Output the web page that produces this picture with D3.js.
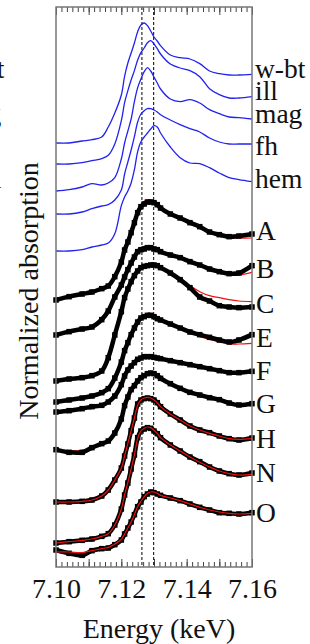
<!DOCTYPE html>
<meta charset="utf-8">
<style>
body { margin: 0; background: #fff; }
text { font-family: "Liberation Serif", "Times New Roman", serif; fill: #111; }
.frame { fill: none; stroke: #777; stroke-width: 1.5px; }
.ticks line { stroke: #444; stroke-width: 1px; }
.ticks path { display: none; }
.ticks text { font-size: 28px; font-family: "Liberation Serif", "Times New Roman", serif; fill: #111; }
.ref { fill: none; stroke: #2222ee; stroke-width: 1.3px; }
.obs { fill: none; stroke: #000; stroke-width: 4.5px; }
.fit { fill: none; stroke: #ee1111; stroke-width: 1.2px; }
.edge { stroke: #000; stroke-width: 1px; stroke-dasharray: 3,2; }
.lbl { font-size: 27.5px; }
</style>
<body>
<svg width="310" height="644"></svg>
<script src="https://d3js.org/d3.v7.min.js"></script>
<script>

// energy grid (keV)
var energy = [7.100, 7.104, 7.108, 7.111, 7.114, 7.116, 7.118, 7.120, 7.121, 7.122,
              7.123, 7.124, 7.125, 7.126, 7.127, 7.128, 7.129, 7.130, 7.131, 7.132,
              7.135, 7.138, 7.141, 7.144, 7.147, 7.150, 7.153, 7.156, 7.160];

// reference compounds (blue)
var refNames = ["w-bt", "ill", "mag", "fh", "hem"];
var refOffsets = [6.36, 6.045, 5.64, 5.295, 4.74];
var refLabelLevels = [7.335, 7.005, 6.66, 6.18, 5.685];
var wbt = [0, 0, 0.03, 0.05, 0.09, 0.24, 0.45, 0.72, 1.00, 1.20, 1.35, 1.50, 1.67, 1.77, 1.80, 1.76, 1.68, 1.59, 1.53, 1.46, 1.32, 1.28, 1.26, 1.19, 1.08, 1.04, 1.02, 1.02, 1.03];
var ill = [0, 0, 0.02, 0.05, 0.08, 0.13, 0.30, 0.65, 0.92, 1.10, 1.26, 1.40, 1.56, 1.67, 1.74, 1.82, 1.85, 1.80, 1.73, 1.65, 1.50, 1.44, 1.40, 1.31, 1.13, 1.04, 0.99, 0.99, 1.01];
var mag = [0, 0.02, 0.06, 0.11, 0.09, 0.12, 0.20, 0.48, 0.72, 0.90, 1.08, 1.34, 1.55, 1.68, 1.79, 1.85, 1.80, 1.71, 1.62, 1.53, 1.38, 1.34, 1.37, 1.32, 1.22, 1.16, 1.11, 1.10, 1.08];
var fh  = [0, 0, 0.03, 0.08, 0.12, 0.14, 0.21, 0.36, 0.60, 0.78, 0.96, 1.16, 1.38, 1.50, 1.55, 1.58, 1.58, 1.56, 1.53, 1.49, 1.41, 1.34, 1.28, 1.23, 1.14, 1.08, 1.05, 1.05, 1.05];
var hem = [0, 0, 0.02, 0.06, 0.09, 0.12, 0.26, 0.68, 0.81, 0.90, 1.02, 1.22, 1.49, 1.64, 1.71, 1.77, 1.83, 1.88, 1.86, 1.77, 1.56, 1.40, 1.32, 1.31, 1.25, 1.17, 1.10, 1.07, 1.04];
var refSpectra = [wbt, ill, mag, fh, hem];

// samples: measured (black) and fit (red)
var sampleNames = ["A", "B", "C", "E", "F", "G", "H", "N", "O"];
var sampleOffsets = [4.005, 3.48, 2.79, 2.475, 2.325, 1.74, 0.975, 0.36, 0.225];
var sampleLabelLevels = [4.905, 4.335, 3.81, 3.30, 2.805, 2.31, 1.785, 1.275, 0.675];

var obsA = [0, 0.05, 0.09, 0.12, 0.17, 0.21, 0.35, 0.57, 0.75, 0.87, 1.01, 1.16, 1.31, 1.40, 1.44, 1.47, 1.47, 1.46, 1.43, 1.38, 1.29, 1.23, 1.16, 1.10, 1.02, 0.98, 0.95, 0.96, 0.99];
var fitA = [0, 0.04, 0.08, 0.12, 0.16, 0.21, 0.35, 0.57, 0.75, 0.88, 1.02, 1.17, 1.33, 1.43, 1.48, 1.50, 1.50, 1.48, 1.45, 1.40, 1.30, 1.23, 1.16, 1.09, 1.02, 0.97, 0.94, 0.93, 0.93];
var obsB = [0, 0.05, 0.09, 0.12, 0.23, 0.36, 0.57, 0.75, 0.87, 0.98, 1.08, 1.17, 1.25, 1.28, 1.29, 1.31, 1.31, 1.29, 1.28, 1.25, 1.20, 1.16, 1.10, 1.05, 0.99, 0.95, 0.92, 0.93, 1.04];
var fitB = [0, 0.04, 0.08, 0.12, 0.22, 0.36, 0.57, 0.76, 0.89, 1.00, 1.10, 1.19, 1.27, 1.31, 1.33, 1.34, 1.34, 1.32, 1.30, 1.27, 1.21, 1.16, 1.10, 1.04, 0.98, 0.93, 0.90, 0.90, 0.94];
var obsC = [0, 0.03, 0.05, 0.08, 0.15, 0.35, 0.69, 1.04, 1.25, 1.38, 1.49, 1.58, 1.65, 1.70, 1.72, 1.73, 1.74, 1.74, 1.73, 1.70, 1.62, 1.52, 1.40, 1.26, 1.20, 1.13, 1.11, 1.10, 1.11];
var fitC = [0, 0.03, 0.05, 0.08, 0.15, 0.34, 0.68, 1.03, 1.24, 1.38, 1.49, 1.58, 1.66, 1.71, 1.74, 1.76, 1.77, 1.76, 1.75, 1.72, 1.62, 1.53, 1.43, 1.34, 1.28, 1.25, 1.22, 1.20, 1.19];
var obsE = [0, 0.03, 0.06, 0.09, 0.14, 0.20, 0.36, 0.60, 0.77, 0.89, 1.01, 1.11, 1.20, 1.26, 1.28, 1.30, 1.30, 1.28, 1.25, 1.23, 1.17, 1.11, 1.05, 1.01, 0.97, 0.93, 0.90, 0.93, 1.01];
var fitE = [0, 0.02, 0.05, 0.07, 0.12, 0.19, 0.35, 0.60, 0.78, 0.91, 1.03, 1.13, 1.22, 1.29, 1.31, 1.33, 1.33, 1.31, 1.28, 1.25, 1.18, 1.11, 1.04, 0.98, 0.94, 0.90, 0.87, 0.87, 0.88];
var obsF = [0, 0.02, 0.05, 0.08, 0.10, 0.15, 0.24, 0.41, 0.54, 0.63, 0.69, 0.74, 0.79, 0.81, 0.83, 0.83, 0.83, 0.82, 0.81, 0.80, 0.77, 0.74, 0.71, 0.68, 0.65, 0.62, 0.59, 0.59, 0.61];
var fitF = [0, 0.02, 0.04, 0.07, 0.10, 0.15, 0.24, 0.41, 0.54, 0.64, 0.71, 0.76, 0.81, 0.83, 0.85, 0.85, 0.85, 0.84, 0.83, 0.81, 0.78, 0.74, 0.71, 0.68, 0.65, 0.62, 0.60, 0.60, 0.60];
var obsG = [0.02, -0.02, -0.02, 0.05, 0.11, 0.15, 0.27, 0.48, 0.68, 0.81, 0.92, 0.98, 1.05, 1.10, 1.13, 1.16, 1.17, 1.16, 1.13, 1.09, 1.01, 0.94, 0.88, 0.84, 0.80, 0.77, 0.72, 0.69, 0.71];
var fitG = [0, 0, 0.01, 0.04, 0.10, 0.15, 0.27, 0.48, 0.68, 0.81, 0.92, 0.99, 1.06, 1.11, 1.15, 1.17, 1.18, 1.17, 1.14, 1.10, 1.02, 0.94, 0.88, 0.83, 0.79, 0.76, 0.72, 0.70, 0.69];
var obsH = [0, 0, 0.01, 0.03, 0.09, 0.18, 0.33, 0.51, 0.69, 0.87, 1.07, 1.26, 1.47, 1.53, 1.55, 1.56, 1.55, 1.53, 1.49, 1.43, 1.32, 1.23, 1.14, 1.08, 1.04, 0.99, 0.95, 0.93, 0.96];
var fitH = [0, 0, 0.01, 0.03, 0.09, 0.18, 0.33, 0.51, 0.69, 0.88, 1.07, 1.26, 1.45, 1.53, 1.56, 1.57, 1.56, 1.53, 1.49, 1.43, 1.32, 1.23, 1.14, 1.08, 1.03, 0.99, 0.95, 0.94, 0.95];
var obsN = [0, 0.02, 0.04, 0.06, 0.10, 0.14, 0.27, 0.51, 0.72, 0.90, 1.11, 1.32, 1.58, 1.68, 1.71, 1.73, 1.72, 1.68, 1.64, 1.58, 1.47, 1.38, 1.29, 1.22, 1.14, 1.08, 1.04, 1.02, 1.05];
var fitN = [0, 0.02, 0.04, 0.06, 0.10, 0.14, 0.27, 0.51, 0.72, 0.91, 1.11, 1.32, 1.57, 1.68, 1.72, 1.74, 1.73, 1.69, 1.64, 1.58, 1.47, 1.38, 1.29, 1.21, 1.14, 1.08, 1.04, 1.02, 1.03];
var obsO = [0.03, -0.02, -0.05, 0.02, 0.05, 0.06, 0.11, 0.18, 0.27, 0.36, 0.45, 0.56, 0.68, 0.75, 0.83, 0.87, 0.90, 0.89, 0.87, 0.85, 0.81, 0.77, 0.72, 0.67, 0.63, 0.59, 0.58, 0.57, 0.59];
var fitO = [0, 0, -0.01, 0.02, 0.05, 0.07, 0.12, 0.19, 0.27, 0.36, 0.45, 0.56, 0.68, 0.76, 0.83, 0.88, 0.90, 0.90, 0.88, 0.85, 0.81, 0.77, 0.72, 0.67, 0.63, 0.60, 0.58, 0.57, 0.58];
var observed = [obsA, obsB, obsC, obsE, obsF, obsG, obsH, obsN, obsO];
var fitted = [fitA, fitB, fitC, fitE, fitF, fitG, fitH, fitN, fitO];

// Fe(II) / Fe(III) edge markers
var edgeLines = [7.1263, 7.1299];
var tickLabels = [7.10, 7.12, 7.14, 7.16];

var svg = d3.select("svg");
var m = { left: 56, right: 252, top: 7, bottom: 567 };

var x = d3.scaleLinear().domain([7.10, 7.16]).range([m.left, m.right]);
var y = d3.scaleLinear().domain([0, 8.4]).range([m.bottom, m.top]);

var line = function(off) {
  return d3.line()
    .x(function(d, i) { return x(energy[i]); })
    .y(function(d) { return y(d + off); })
    .curve(d3.curveCatmullRom.alpha(0.5));
};

// ticks
var minor = d3.range(0, 37).map(function(i) { return 7.10 + i * 0.01 / 6; });
var major = d3.range(0, 7).map(function(i) { return 7.10 + i * 0.01; });

svg.append("g").attr("class", "ticks")
    .attr("transform", "translate(0," + m.bottom + ")")
    .call(d3.axisBottom(x).tickValues(minor).tickSize(-5).tickFormat(""));
svg.append("g").attr("class", "ticks")
    .attr("transform", "translate(0," + m.bottom + ")")
    .call(d3.axisBottom(x).tickValues(major).tickSize(-8).tickFormat(""));
svg.append("g").attr("class", "ticks")
    .attr("transform", "translate(0," + m.top + ")")
    .call(d3.axisTop(x).tickValues(minor).tickSize(-5).tickFormat(""));
svg.append("g").attr("class", "ticks")
    .attr("transform", "translate(0," + m.top + ")")
    .call(d3.axisTop(x).tickValues(major).tickSize(-8).tickFormat(""));
svg.append("g").attr("class", "ticks")
    .attr("transform", "translate(0," + m.bottom + ")")
    .call(d3.axisBottom(x).tickValues(tickLabels).tickSize(0).tickPadding(11)
      .tickFormat(d3.format(".2f")));

// dashed edge lines
svg.selectAll(".edge").data(edgeLines).enter().append("line")
    .attr("class", "edge")
    .attr("x1", function(d) { return x(d); }).attr("x2", function(d) { return x(d); })
    .attr("y1", m.top).attr("y2", m.bottom);

// reference spectra
svg.append("g").selectAll("path").data(refSpectra).enter().append("path")
    .attr("class", "ref")
    .attr("d", function(d, i) { return line(refOffsets[i])(d); });

// samples
observed.forEach(function(obs, i) {
  var g = svg.append("g");
  var off = sampleOffsets[i];
  var drawFit = function() {
    g.append("path").attr("class", "fit").attr("d", line(off)(fitted[i]));
  };
  if (i < 6) drawFit();
  g.append("path").attr("class", "obs").attr("d", line(off)(obs));
  g.selectAll("rect").data(obs).enter().append("rect")
      .attr("x", function(d, j) { return x(energy[j]) - 2.75; })
      .attr("y", function(d) { return y(d + off) - 2.75; })
      .attr("width", 5.5).attr("height", 5.5)
      .attr("fill", "#000");
  if (i >= 6) drawFit();
});

// frame
svg.append("rect").attr("class", "frame")
    .attr("x", m.left).attr("y", m.top)
    .attr("width", m.right - m.left).attr("height", m.bottom - m.top);

// curve labels
svg.selectAll(".rlbl").data(refNames).enter().append("text")
    .attr("class", "lbl rlbl")
    .attr("x", m.right + 3)
    .attr("y", function(d, i) { return y(refLabelLevels[i]); })
    .text(function(d) { return d; });
svg.selectAll(".slbl").data(sampleNames).enter().append("text")
    .attr("class", "lbl slbl")
    .attr("x", m.right + 4)
    .attr("y", function(d, i) { return y(sampleLabelLevels[i]); })
    .text(function(d) { return d; });

// labels of the neighbouring panel, cut by the left edge
svg.selectAll(".nlbl").data(refNames).enter().append("text")
    .attr("class", "lbl nlbl")
    .attr("x", -46)
    .attr("y", function(d, i) { return y(refLabelLevels[i]); })
    .text(function(d) { return d; });

// axis titles
svg.append("text")
    .attr("transform", "translate(38," + ((m.top + m.bottom) / 2 + 4) + ") rotate(-90)")
    .attr("text-anchor", "middle")
    .style("font-size", "28px")
    .text("Normalized absorption");

svg.append("text")
    .attr("x", 159).attr("y", 638)
    .attr("text-anchor", "middle")
    .style("font-size", "28px")
    .text("Energy (keV)");

</script>
</body>
